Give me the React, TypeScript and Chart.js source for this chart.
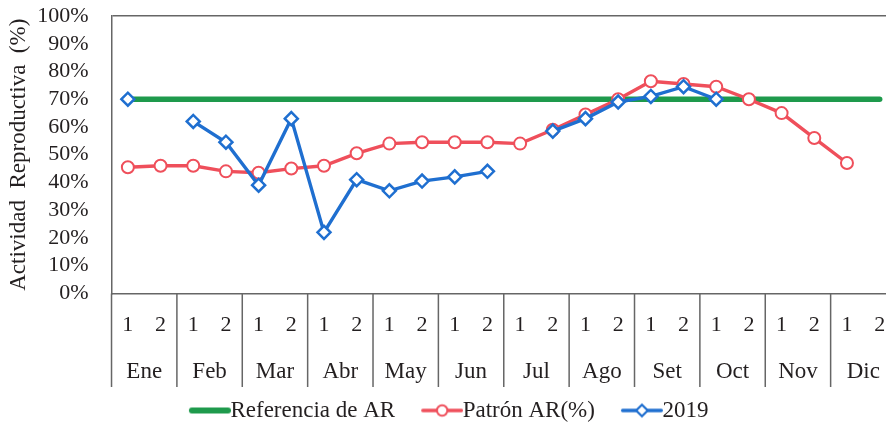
import { useEffect, useRef } from 'react';
import { Chart, registerables } from 'chart.js';

Chart.register(...registerables);

const HALVES = ['1', '2', '1', '2', '1', '2', '1', '2', '1', '2', '1', '2', '1', '2', '1', '2', '1', '2', '1', '2', '1', '2', '1', '2'];
const MONTHS = ['Ene', 'Feb', 'Mar', 'Abr', 'May', 'Jun', 'Jul', 'Ago', 'Set', 'Oct', 'Nov', 'Dic'];
const REFERENCIA = [70, 70, 70, 70, 70, 70, 70, 70, 70, 70, 70, 70, 70, 70, 70, 70, 70, 70, 70, 70, 70, 70, 70, 70];
const PATRON = [45.5, 46, 46, 44, 43.5, 45, 46, 50.5, 54, 54.5, 54.5, 54.5, 54, 59, 64.5, 70, 76.5, 75.5, 74.5, 70, 65, 56, 47, null];
const Y2019 = [70, null, 62, 54.5, 39, 63, 22, 41, 37, 40.5, 42, 44, null, 58.5, 63, 69, 71, 74.5, 70, null, null, null, null, null];
const SERIES_NAMES = ['Referencia de AR', 'Patrón AR(%)', '2019'];

const FONT = "'Liberation Serif', 'Times New Roman', serif";
const TEXT = '#231f20';
const GREEN = '#1e9a4c';
const RED = '#ef4f5b';
const BLUE = '#1f6fd0';
const AXIS = '#666666';

const BOX_W = 44;
const SAMPLE_LEN = 42;

function makeSample(color: string, lw: number, marker: string | null) {
  const total = BOX_W + 24;
  const c = document.createElement('canvas');
  c.width = total;
  c.height = 18;
  const g = c.getContext('2d')!;
  const x0 = total - SAMPLE_LEN;
  g.strokeStyle = color;
  g.lineWidth = lw;
  g.lineCap = 'round';
  g.beginPath();
  g.moveTo(x0 + lw / 2, 9);
  g.lineTo(total - lw / 2, 9);
  g.stroke();
  const cx = x0 + SAMPLE_LEN / 2;
  g.fillStyle = '#ffffff';
  if (marker === 'circle') {
    g.beginPath();
    g.arc(cx, 9, 5.2, 0, Math.PI * 2);
    g.fill();
    g.lineWidth = 2;
    g.stroke();
  } else if (marker === 'diamond') {
    g.beginPath();
    g.moveTo(cx, 3.2);
    g.lineTo(cx + 5.8, 9);
    g.lineTo(cx, 14.8);
    g.lineTo(cx - 5.8, 9);
    g.closePath();
    g.fill();
    g.lineWidth = 2.2;
    g.stroke();
  }
  return c;
}

const monthSeparators = {
  id: 'monthSeparators',
  afterDraw(chart: any) {
    const xs = chart.scales.x;
    const ms = chart.scales.month;
    if (!xs || !ms) return;
    const ctx = chart.ctx;
    const band = xs.getPixelForValue(1) - xs.getPixelForValue(0);
    ctx.save();
    ctx.strokeStyle = AXIS;
    ctx.lineWidth = 1.5;
    ctx.beginPath();
    for (let i = 0; i <= HALVES.length; i += 2) {
      const x = xs.getPixelForValue(i) - band / 2;
      ctx.moveTo(x, chart.chartArea.bottom);
      ctx.lineTo(x, ms.bottom);
    }
    ctx.stroke();
    ctx.restore();
  },
};

export default function App() {
  const ref = useRef<HTMLCanvasElement | null>(null);

  useEffect(() => {
    if (!ref.current) return;
    const samples = [makeSample(GREEN, 6, null), makeSample(RED, 3.4, 'circle'), makeSample(BLUE, 3.4, 'diamond')];
    const chart = new Chart(ref.current, {
      type: 'line',
      data: {
        labels: HALVES,
        datasets: [
          {
            label: SERIES_NAMES[0],
            data: REFERENCIA,
            borderColor: GREEN,
            backgroundColor: GREEN,
            borderWidth: 5.5,
            borderCapStyle: 'round',
            pointRadius: 0,
            tension: 0,
            order: 3,
            xAxisID: 'x',
            yAxisID: 'y',
          },
          {
            label: SERIES_NAMES[1],
            data: PATRON,
            borderColor: RED,
            backgroundColor: '#ffffff',
            borderWidth: 3.4,
            pointStyle: 'circle',
            pointRadius: 6,
            pointBorderWidth: 2,
            pointBackgroundColor: '#ffffff',
            pointBorderColor: RED,
            tension: 0,
            order: 2,
            xAxisID: 'x',
            yAxisID: 'y',
          },
          {
            label: SERIES_NAMES[2],
            data: Y2019,
            borderColor: BLUE,
            backgroundColor: '#ffffff',
            borderWidth: 3.4,
            pointStyle: 'rectRot',
            pointRadius: 6.5,
            pointBorderWidth: 2.5,
            pointBackgroundColor: '#ffffff',
            pointBorderColor: BLUE,
            tension: 0,
            order: 1,
            xAxisID: 'x',
            yAxisID: 'y',
          },
        ],
      },
      options: {
        responsive: false,
        animation: false,
        layout: { padding: { top: 16, left: 1.6, right: 6, bottom: 0 } },
        scales: {
          x: {
            type: 'category',
            position: 'bottom',
            offset: true,
            grid: { display: false, drawTicks: false },
            border: { display: true, color: AXIS, width: 1.5 },
            ticks: {
              autoSkip: false,
              maxRotation: 0,
              padding: 19,
              color: TEXT,
              font: { family: FONT, size: 22 },
            },
          },
          month: {
            type: 'category',
            axis: 'x',
            position: 'bottom',
            weight: 1,
            labels: MONTHS,
            offset: true,
            grid: { display: false, drawTicks: false },
            border: { display: false },
            ticks: {
              autoSkip: false,
              maxRotation: 0,
              padding: 0.8,
              color: TEXT,
              font: { family: FONT, size: 23 },
            },
          },
          y: {
            min: 0,
            max: 100,
            grid: {
              drawTicks: true,
              tickLength: 23,
              tickColor: 'rgba(0,0,0,0)',
              lineWidth: 1.5,
              color: (c: any) => (c.tick && c.tick.value === 100 ? AXIS : 'rgba(0,0,0,0)'),
            },
            border: { display: true, color: AXIS, width: 1.5 },
            ticks: {
              stepSize: 10,
              autoSkip: false,
              padding: 0,
              color: TEXT,
              font: { family: FONT, size: 22 },
              callback: (v: any) => `${v}%`,
            },
            title: {
              display: true,
              text: 'Actividad  Reproductiva  (%)',
              color: TEXT,
              font: { family: FONT, size: 23 },
            },
          },
        },
        plugins: {
          tooltip: { enabled: false },
          legend: {
            display: true,
            position: 'bottom',
            labels: {
              usePointStyle: true,
              pointStyleWidth: BOX_W,
              padding: 12,
              color: TEXT,
              font: { family: FONT, size: 23 },
              generateLabels: (ch: any) =>
                ch.data.datasets.map((ds: any, i: number) => ({
                  text: i === 2 ? ds.label + '   ' : ds.label,
                  fillStyle: ds.borderColor,
                  strokeStyle: ds.borderColor,
                  lineWidth: 0,
                  pointStyle: samples[i],
                  hidden: false,
                  datasetIndex: i,
                  fontColor: TEXT,
                })),
            },
          },
        },
      },
      plugins: [monthSeparators],
    });
    return () => chart.destroy();
  }, []);

  return (
    <div style={{ position: 'fixed', left: 0, top: 0, width: 886, height: 424, overflow: 'hidden', background: '#fff' }}>
      <canvas ref={ref} width={905} height={432} />
    </div>
  );
}
